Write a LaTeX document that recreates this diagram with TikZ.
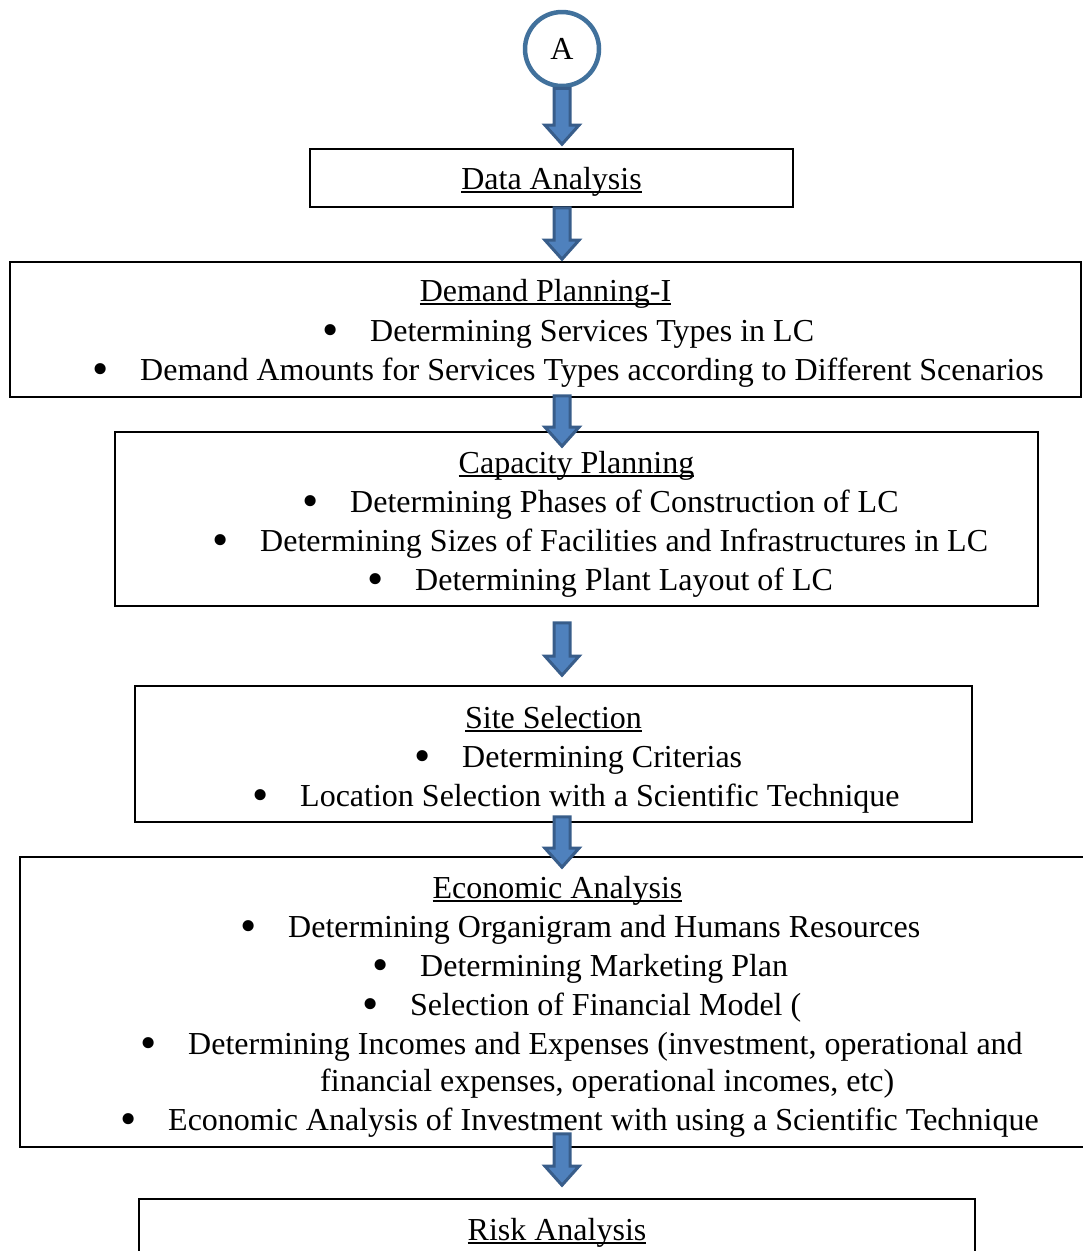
\documentclass[tikz,border=0pt]{standalone}
\usepackage{fontspec}
\setmainfont{Liberation Serif}
\usetikzlibrary{calc}

\definecolor{arrfill}{HTML}{4F81BD}
\definecolor{arrline}{HTML}{385D8A}
\definecolor{circblue}{HTML}{41719C}

\tikzset{
  every node/.style={font=\fontsize{32}{39}\selectfont},
  stepbox/.style={rectangle, draw, line width=1.6pt, inner sep=0pt},
  ttl/.style={anchor=base, inner sep=0pt},
  item/.style={anchor=base west, inner sep=0pt},
  blk/.style={fill=arrfill, draw=arrline, line width=3pt, line join=miter},
}

% word-style underline, close to the baseline
\newcommand\ttlul[1]{\setbox0\hbox{#1}\rlap{\rule[-4pt]{\wd0}{1.8pt}}\box0}
% bullet hung left of the text start
\newcommand\itm{\llap{\raisebox{-4.5pt}{\scalebox{1.45}{\textbullet}}\hspace{31.5pt}}}
% thick blue down arrow: from, to, shift at start, shift at tip
\newcommand\blkarrow[4]{%
  \path[blk] let \p1=(A.center |- #1), \p2=(A.center |- #2) in
    ({\x1-8pt},{\y1+#3}) -- ({\x1+8pt},{\y1+#3}) -- ({\x1+8pt},{\y2+#4+19pt})
    -- ({\x1+17pt},{\y2+#4+19pt}) -- ({\x1},{\y2+#4}) -- ({\x1-17pt},{\y2+#4+19pt})
    -- ({\x1-8pt},{\y2+#4+19pt}) -- cycle;}

\begin{document}
\begin{tikzpicture}[x=1pt, y=-1pt]
  \useasboundingbox (0,0) rectangle (1083,1251);
  \clip (0,0) rectangle (1083,1251);

  \node[circle, draw=circblue, line width=4.5pt, fill=white, minimum size=74pt, inner sep=0pt] (A) at (562,49) {A};

  % boxes
  \node[stepbox, minimum width=483pt, minimum height=58pt] (data) at (551.5,178) {};
  \node[stepbox, minimum width=1071pt, minimum height=135pt] (demand) at (545.5,329.5) {};
  \node[stepbox, minimum width=923pt, minimum height=174pt] (capacity) at (576.5,519) {};
  \node[stepbox, minimum width=837pt, minimum height=136pt] (site) at (553.5,754) {};
  \node[stepbox, minimum width=1075pt, minimum height=290pt] (economic) at (557.5,1002) {};
  \node[stepbox, minimum width=836pt, minimum height=101pt] (risk) at (557,1249.5) {};

  % titles
  \node[ttl] (dataT) at (551.5,189) {\ttlul{Data Analysis}};
  \node[ttl] (demandT) at (545.5,301) {\ttlul{Demand Planning-I}};
  \node[ttl] (capacityT) at (576.5,473) {\ttlul{Capacity Planning}};
  \node[ttl] (siteT) at (553.5,728) {\ttlul{Site Selection}};
  \node[ttl] (economicT) at (557.5,898) {\ttlul{Economic Analysis}};
  \node[ttl] (riskT) at (557,1240) {\ttlul{Risk Analysis}};

  % bullet lines
  \node[item] (dem1) at (370,341) {\itm Determining Services Types in LC};
  \node[item] (dem2) at (140,380) {\itm Demand Amounts for Services Types according to Different Scenarios};

  \node[item] (cap1) at (350,512) {\itm Determining Phases of Construction of LC};
  \node[item] (cap2) at (260,551) {\itm Determining Sizes of Facilities and Infrastructures in LC};
  \node[item] (cap3) at (415,590) {\itm Determining Plant Layout of LC};

  \node[item] (site1) at (462,767) {\itm Determining Criterias};
  \node[item] (site2) at (300,806) {\itm Location Selection with a Scientific Technique};

  \node[item] (eco1) at (288,937) {\itm Determining Organigram and Humans Resources};
  \node[item] (eco2) at (420,976) {\itm Determining Marketing Plan};
  \node[item] (eco3) at (410,1015) {\itm Selection of Financial Model (};
  \node[item] (eco4) at (188,1054) {\itm Determining Incomes and Expenses (investment, operational and};
  \node[item] (eco5) at (320,1091) {financial expenses, operational incomes, etc)};
  \node[item] (eco6) at (168,1130) {\itm Economic Analysis of Investment with using a Scientific Technique};

  % arrows
  \blkarrow{A.south}{data.north}{0pt}{4pt}
  \blkarrow{data.south}{demand.north}{0pt}{2pt}
  \blkarrow{demand.south}{capacity.north}{2pt}{-15pt}
  \blkarrow{capacity.south}{site.north}{-16pt}{10pt}
  \blkarrow{site.south}{economic.north}{6pt}{-11pt}
  \blkarrow{economic.south}{risk.north}{14pt}{13pt}
\end{tikzpicture}
\end{document}
